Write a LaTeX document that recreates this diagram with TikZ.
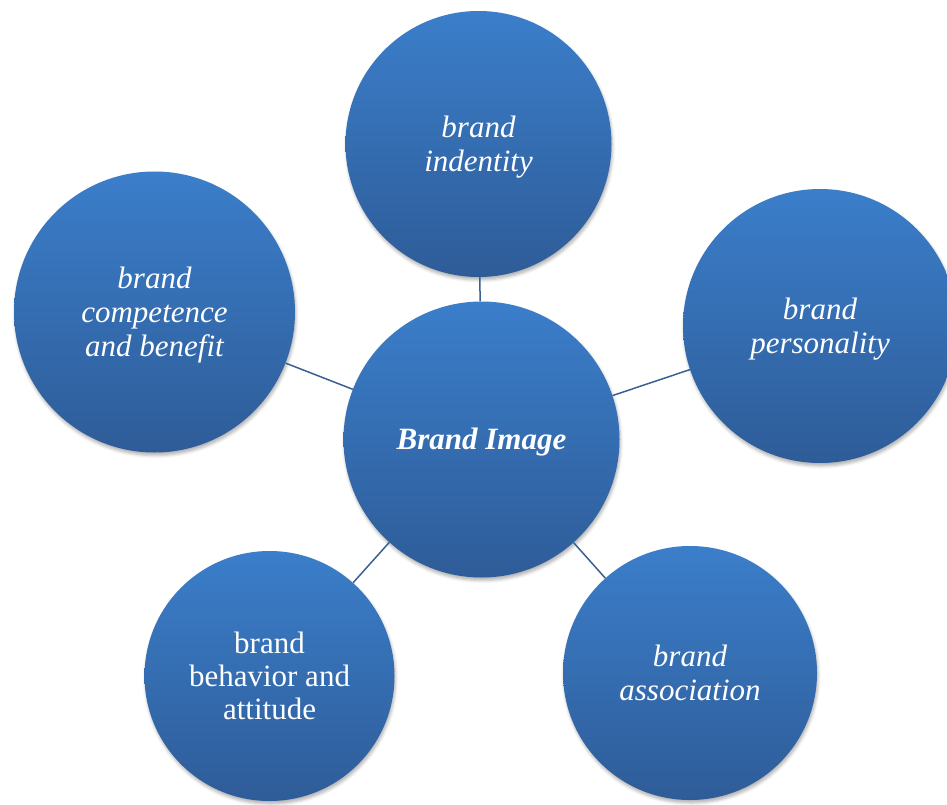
\documentclass[tikz,border=0pt]{standalone}
\usepackage{fontspec}
\setmainfont{Liberation Serif}
\usetikzlibrary{shadows.blur}

\definecolor{ballTop}{RGB}{59,126,202}
\definecolor{ballBottom}{RGB}{46,92,152}
\definecolor{linkBlue}{RGB}{58,96,146}

% centred lines, set a little below the middle of the ball
\newcommand\ballText[1]{\raisebox{-3.5pt}[\height][\depth]{%
  \begin{tabular}{@{}c@{}}#1\end{tabular}}}

\tikzset{
  ball/.style={circle, inner sep=0pt, draw=none,
    top color=ballTop, bottom color=ballBottom, text=white,
    font=\fontsize{31}{34}\selectfont\itshape,
    blur shadow={shadow xshift=1pt, shadow yshift=-3pt,
      shadow blur radius=3pt, shadow opacity=30}},
  link/.style={draw=linkBlue, line width=1.5pt}
}

\begin{document}
\begin{tikzpicture}[x=1pt, y=-1pt]
  \useasboundingbox (0,0) rectangle (947,805);
  \clip (0,0) rectangle (947,805);

  % central concept
  \node[ball, minimum size=276pt] (ctr) at (481.5,439.5)
    {\ballText{\bfseries Brand Image}};

  % surrounding dimensions
  \node[ball, minimum size=266pt] (ident) at (478.5,144)
    {\ballText{brand\\indentity}};
  \node[ball, minimum size=281pt] (comp) at (154.5,312)
    {\ballText{brand\\competence\\and benefit}};
  \node[ball, minimum size=274pt] (pers) at (820,326)
    {\ballText{brand\\personality}};
  \node[ball, minimum size=250pt, font=\fontsize{31}{33}\selectfont\upshape] (behav) at (269.5,676)
    {\ballText{brand\\behavior and\\attitude}};
  \node[ball, minimum size=254pt] (assoc) at (690,673)
    {\ballText{brand\\association}};

  % spokes
  \draw[link] (ctr) -- (ident);
  \draw[link] (ctr) -- (comp);
  \draw[link] (ctr) -- (pers);
  \draw[link] (ctr) -- (behav);
  \draw[link] (ctr) -- (assoc);
\end{tikzpicture}
\end{document}
